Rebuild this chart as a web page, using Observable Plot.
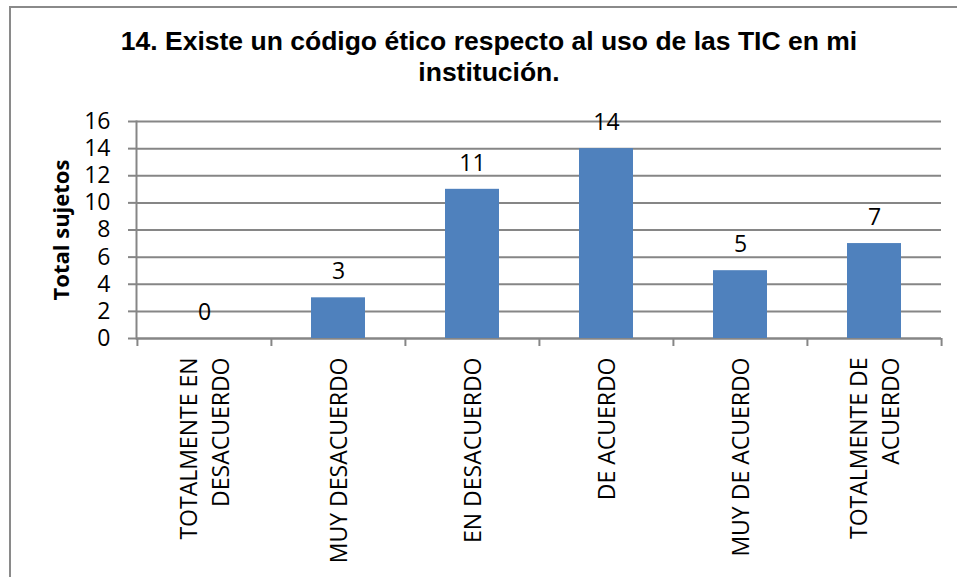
<!DOCTYPE html>
<html><head><meta charset="utf-8">
<script src="https://cdn.jsdelivr.net/npm/d3@7"></script>
<script src="https://cdn.jsdelivr.net/npm/@observablehq/plot@0.6"></script>
<style>
body{margin:0;background:#fff;}
#wrap{position:relative;width:957px;height:577px;overflow:hidden;background:#fff;}
#frame{position:absolute;left:9px;top:6px;right:0;bottom:0;border-left:2px solid #8a8a8a;border-top:2px solid #8a8a8a;}
#title{position:absolute;left:21px;width:936px;top:26px;text-align:center;font:bold 26.5px/31px "Liberation Sans",Arial,sans-serif;color:#000;}
#chart{position:absolute;left:0;top:100px;}
</style></head><body>
<div id="wrap"><div id="frame"></div><div id="title"></div><div id="chart"></div></div>
<script>
const titleLines = ["14. Existe un código ético respecto al uso de las TIC en mi", "institución."];
const categories = ["TOTALMENTE EN\nDESACUERDO","MUY DESACUERDO","EN DESACUERDO","DE ACUERDO","MUY DE ACUERDO","TOTALMENTE DE\nACUERDO"];
const values = [0,3,11,14,5,7];
const yTicks = [0,2,4,6,8,10,12,14,16];
const yLabel = "Total sujetos";

const titleEl = document.getElementById("title");
titleLines.forEach((t,i)=>{ if(i) titleEl.appendChild(document.createElement("br")); titleEl.appendChild(document.createTextNode(t)); });

const data = categories.map((c,i)=>({cat:c, value: values[i]}));
const W=957, H=477, mL=136, mR=16, mT=21, mB=239;
const step = (W-mL-mR)/categories.length;
const gray="#868686";
const chart = Plot.plot({
  width:W, height:H, marginLeft:mL, marginRight:mR, marginTop:mT, marginBottom:mB,
  style:{fontFamily:'"Open Sans", sans-serif', fontSize:"23px", color:"#000", background:"transparent", overflow:"visible"},
  x:{domain:categories, paddingInner:0.6, paddingOuter:0.3},
  y:{domain:[0,16]},
  marks:[
    Plot.gridY(yTicks,{stroke:gray, strokeOpacity:1, strokeWidth:2}),
    Plot.frame({anchor:"left", stroke:gray, strokeWidth:2}),
    Plot.ruleY([0],{stroke:gray, strokeWidth:2}),
    Plot.ruleX(categories,{x:d=>d, y1:0, y2:0, dx:-step/2, insetBottom:-8, stroke:gray, strokeWidth:2}),
    Plot.ruleX(categories.slice(-1),{x:d=>d, y1:0, y2:0, dx:step/2, insetBottom:-8, stroke:gray, strokeWidth:2}),
    Plot.axisY(yTicks,{tickSize:8, tickPadding:18, stroke:gray, strokeWidth:2, fill:"#000", fontSize:23, label:null}),
    Plot.axisX({tickSize:0, tickPadding:19, tickRotate:-90, lineHeight:1.43, fontSize:23, fill:"#000", label:null, dx:-2}),
    Plot.barY(data,{x:"cat", y:"value", fill:"#4F81BD"}),
    Plot.text(data,{x:"cat", y:"value", text:d=>String(d.value), dy:-26, fontSize:23, fill:"#000"}),
    Plot.text([yLabel],{frameAnchor:"left", text:d=>d, rotate:-90, textAnchor:"middle", dx:-75, fontSize:22, fontWeight:"bold", fill:"#000"})
  ]
});
document.getElementById("chart").appendChild(chart);
</script>
</body></html>
